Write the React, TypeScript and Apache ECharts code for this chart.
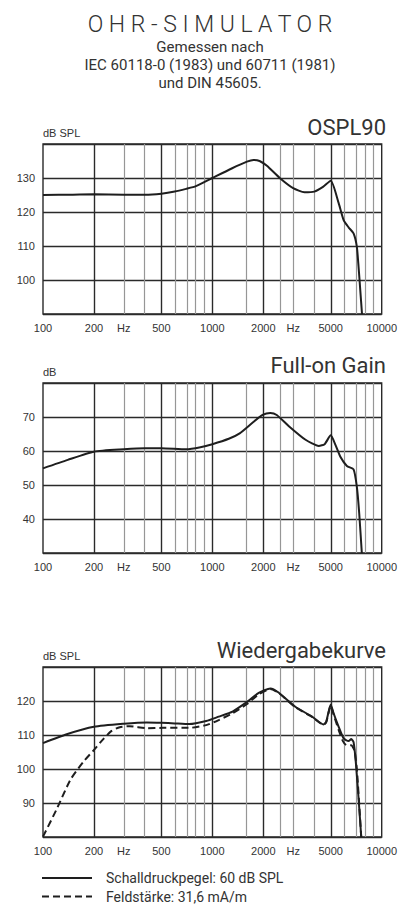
import { useEffect, useRef } from "react";
import * as echarts from "echarts";

// ---- axis ticks / grid ----
const xTickFreqs = [100, 200, 300, 500, 1000, 2000, 3000, 5000, 10000];
const xTickLabels = ["100", "200", "Hz", "500", "1000", "2000", "Hz", "5000", "10000"];
const majorGridFreqs = [200, 500, 1000, 2000, 5000];
const minorGridFreqs = [300, 400, 600, 700, 800, 900, 1600, 2500, 3000, 4000, 6000, 7000, 8000, 9000];

const chartTitles = ["OSPL90", "Full-on Gain", "Wiedergabekurve"];
const yNames = ["dB SPL", "dB", "dB SPL"];
const yMins = [90, 30, 80];
const yMaxs = [140, 80, 130];

// ---- data: [frequency Hz, dB] ----
const osplData = [
  [100, 125.0], [150, 125.1], [200, 125.2], [300, 125.1], [400, 125.1], [500, 125.4],
  [600, 126.0], [700, 126.8], [800, 127.6], [1000, 130.0], [1300, 132.8], [1600, 134.8],
  [1750, 135.3], [1900, 135.0], [2100, 133.6], [2500, 130.0], [3000, 127.0], [3500, 125.8],
  [4000, 126.0], [4500, 127.4], [5000, 129.2], [5570, 122.6], [5960, 117.6], [6370, 115.5],
  [6820, 113.7], [7130, 109.8], [7300, 103.9], [7470, 97.1], [7650, 90],
];

const gainData = [
  [100, 54.9], [140, 57.4], [200, 59.8], [300, 60.5], [400, 60.8], [500, 60.8],
  [700, 60.5], [850, 61.1], [1000, 62.0], [1250, 63.6], [1450, 65.2], [1725, 68.3],
  [1980, 70.6], [2200, 71.2], [2400, 70.6], [2830, 67.3], [3550, 63.3], [4250, 61.5],
  [4600, 62.0], [5000, 64.6], [5330, 61.8], [5700, 58.3], [6230, 55.6], [6820, 54.6],
  [7130, 49.5], [7365, 41.7], [7630, 30],
];

const splData = [
  [100, 107.6], [138, 110.2], [200, 112.4], [300, 113.3], [410, 113.7], [500, 113.6],
  [600, 113.4], [730, 113.2], [920, 114.1], [1090, 115.4], [1316, 116.9], [1611, 119.8],
  [1880, 122.4], [2200, 123.7], [2460, 122.5], [3090, 118.3], [3880, 115.4], [4530, 113.1],
  [4700, 113.9], [5000, 119.0], [5200, 116.4], [5570, 112.4], [5960, 109.0], [6370, 108.2],
  [6610, 108.8], [6820, 107.9], [7030, 102.1], [7300, 91.4], [7570, 80],
];

const fieldData = [
  [100, 80.1], [121, 88.4], [145, 96.8], [173, 102.1], [200, 105.6], [227, 108.8],
  [254, 111.2], [284, 112.3], [325, 112.6], [408, 112.0], [510, 112.1], [730, 112.1],
  [920, 112.9], [1090, 114.4], [1316, 116.4], [1611, 119.2], [1880, 122.0], [2200, 123.5],
  [2460, 122.4], [3090, 118.2], [3880, 115.3], [4530, 113.0], [4700, 113.7], [5000, 118.6],
  [5200, 116.0], [5570, 111.5], [5900, 108.2], [6200, 107.0], [6600, 107.0], [6900, 105.5],
  [7130, 100], [7400, 88], [7570, 80],
];

const legendNames = ["Schalldruckpegel: 60 dB SPL", "Feldstärke: 31,6 mA/m"];

const INK = "#1e1e1e";
const TXT = "#333";
const TICK_FONT = "Liberation Sans, Arial, sans-serif";
const TITLE_FONT = "Roboto, sans-serif";

const lg = (f: number) => Math.log10(f);
const toXY = (d: number[][]) => d.map(([f, v]) => [lg(f), v]);

export default function App() {
  const ref = useRef<HTMLDivElement>(null);
  useEffect(() => {
    if (!ref.current) return;
    const chart = echarts.init(ref.current, null, { renderer: "svg" });
    const tops = [144, 383, 667];
    const grids = tops.map((t) => ({
      left: 43,
      top: t,
      width: 340,
      height: 170,
      show: true,
      borderColor: "#2a2a2a",
      borderWidth: 1.4,
      backgroundColor: "transparent",
    }));
    const xAxes = tops.map((_, i) => ({
      type: "value",
      gridIndex: i,
      min: 2,
      max: 4,
      splitLine: { show: false },
      axisLine: { show: false },
      axisTick: { show: false },
      axisLabel: {
        customValues: xTickFreqs.map(lg),
        formatter: (v: number) => {
          const k = xTickFreqs.findIndex((f) => Math.abs(lg(f) - v) < 1e-6);
          return k >= 0 ? xTickLabels[k] : "";
        },
        fontSize: 11,
        color: TXT,
        fontFamily: TICK_FONT,
        margin: 8,
      },
    }));
    const yAxes = tops.map((_, i) => ({
      type: "value",
      gridIndex: i,
      min: yMins[i],
      max: yMaxs[i],
      interval: 10,
      name: yNames[i],
      nameLocation: "end",
      nameGap: 11,
      nameTextStyle: {
        align: "left",
        verticalAlign: "middle",
        fontSize: 11,
        color: TXT,
        fontFamily: TICK_FONT,
      },
      axisLine: { show: false },
      axisTick: { show: false },
      axisLabel: {
        showMinLabel: false,
        showMaxLabel: false,
        fontSize: 11,
        color: TXT,
        fontFamily: TICK_FONT,
        margin: 8,
      },
      splitLine: { lineStyle: { color: "#2a2a2a", width: 1.4 } },
    }));

    const gridLineSeries = tops.map((_, i) => ({
      type: "line",
      name: "grid" + i,
      xAxisIndex: i,
      yAxisIndex: i,
      data: [],
      silent: true,
      markLine: {
        silent: true,
        z: 1,
        symbol: ["none", "none"],
        label: { show: false },
        lineStyle: { type: "solid" },
        data: [
          ...minorGridFreqs.map((f) => ({
            xAxis: lg(f),
            lineStyle: { color: "#969696", width: 1.2, type: "solid" },
          })),
          ...majorGridFreqs.map((f) => ({
            xAxis: lg(f),
            lineStyle: { color: "#2a2a2a", width: 1.4, type: "solid" },
          })),
        ],
      },
    }));

    const curve = (name: string, idx: number, data: number[][], dashed = false) => ({
      type: "line",
      name,
      xAxisIndex: idx,
      yAxisIndex: idx,
      data: toXY(data),
      symbol: "none",
      showSymbol: false,
      smooth: 0.2,
      z: 3,
      color: INK,
      lineStyle: { color: INK, width: 2, type: dashed ? [7, 4] : "solid" },
    });

    chart.setOption({
      animation: false,
      backgroundColor: "#fff",
      grid: grids,
      xAxis: xAxes,
      yAxis: yAxes,
      legend: {
        data: legendNames,
        orient: "vertical",
        left: 41,
        top: 871,
        height: 35,
        padding: 0,
        itemWidth: 50,
        itemHeight: 14,
        itemGap: 4.5,
        selectedMode: false,
        itemStyle: { opacity: 0, borderWidth: 0 },
        textStyle: {
          fontSize: 14,
          lineHeight: 14,
          color: TXT,
          fontFamily: TITLE_FONT,
          padding: [0, 0, 0, 9],
        },
      },
      graphic: [
        {
          type: "text",
          x: 210,
          y: 24,
          style: {
            text: "O H R - S I M U L A T O R",
            fontSize: 23,
            fontFamily: TITLE_FONT,
            fontWeight: 300,
            fill: TXT,
            textAlign: "center",
            textVerticalAlign: "middle",
          },
        },
        ...["Gemessen nach", "IEC 60118-0 (1983) und 60711 (1981)", "und DIN 45605."].map(
          (t, i) => ({
            type: "text",
            x: 210,
            y: 47 + i * 18,
            style: {
              text: t,
              fontSize: 15,
              fontFamily: TITLE_FONT,
              fill: TXT,
              textAlign: "center",
              textVerticalAlign: "middle",
            },
          })
        ),
        ...chartTitles.map((t, i) => ({
          type: "text",
          x: 386,
          y: [127, 365.5, 650.5][i],
          style: {
            text: t,
            fontSize: 22,
            fontFamily: TITLE_FONT,
            fill: TXT,
            textAlign: "right",
            textVerticalAlign: "middle",
          },
        })),
      ],
      series: [
        ...gridLineSeries,
        curve("OSPL90", 0, osplData),
        curve("Full-on Gain", 1, gainData),
        curve(legendNames[0], 2, splData),
        curve(legendNames[1], 2, fieldData, true),
      ],
    });
    return () => chart.dispose();
  }, []);
  return (
    <div
      ref={ref}
      style={{ position: "absolute", left: 0, top: 0, width: 400, height: 906, background: "#fff" }}
    />
  );
}
